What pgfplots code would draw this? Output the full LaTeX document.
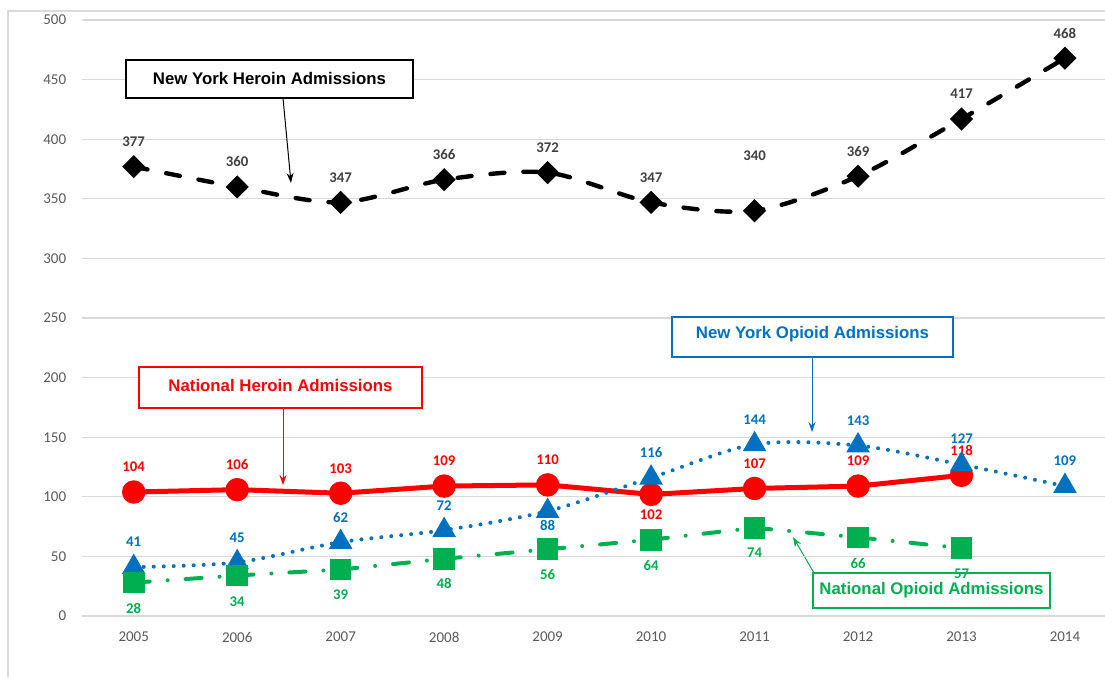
\documentclass[border=0pt]{standalone}
\usepackage{pgfplots}
\pgfplotsset{compat=1.18}
\usepackage{pgfplotstable}
\usetikzlibrary{arrows.meta}
\usepackage{fontspec}
\setmainfont{Carlito}
\newfontfamily\arialf{Liberation Sans}
\definecolor{nyblue}{HTML}{0070C0}
\definecolor{natgreen}{HTML}{00B050}
\definecolor{natred}{HTML}{FF0000}
\definecolor{lblgray}{HTML}{404040}
\definecolor{tickgray}{HTML}{595959}
\definecolor{gridgray}{HTML}{D9D9D9}

% x index, value, label offset (pt)
\pgfplotstableread{
x y dy
0 377 12.5
1 360 12.5
2 347 12.5
3 366 12.5
4 372 12.5
5 347 12.5
6 340 27.5
7 369 12.5
8 417 12.5
9 468 12.5
}\nyheroin
\pgfplotstableread{
x y dy
0 104 12.5
1 106 12.5
2 103 12.5
3 109 12.5
4 110 12.5
5 102 -10
6 107 12.5
7 109 12.5
8 118 12.5
}\natheroin
\pgfplotstableread{
x y dy
0 41 12.5
1 45 12.5
2 62 12.5
3 72 12.5
4 88 -7
5 116 12.5
6 144 12.5
7 143 12.5
8 127 13
9 109 12.5
}\nyopioid
\pgfplotstableread{
x y dy
0 28 -13
1 34 -13
2 39 -12.5
3 48 -12.5
4 56 -12.5
5 64 -13
6 74 -12.5
7 66 -13
8 57 -13
}\natopioid

\begin{document}
\begin{tikzpicture}[x=1pt,y=1pt]
\useasboundingbox (0,0) rectangle (552.5,338.5);
\draw[gridgray, line width=0.6pt] (4,0) -- (4,333) -- (552.5,333);
% green annotation drawn first so the data labels lie over it
\draw[natgreen, line width=0.6pt, fill=white] (406.5,34.5) rectangle (525,52);
\node[font=\arialf\bfseries\fontsize{8.4}{10}\selectfont, text=natgreen] at (465.75,43.5) {National Opioid Admissions};
\draw[natgreen, line width=0.5pt, -{Stealth[length=5pt,width=3.5pt]}] (407,52) -- (396.5,70);
\begin{axis}[
  at={(66.87pt,30.5pt)}, anchor=origin,
  scale only axis, width=511.5pt, height=298pt,
  xmin=-0.5, xmax=9.387, ymin=0, ymax=500,
  clip=false,
  axis line style={draw=none},
  major tick length=0pt,
  ytick={0,50,...,500},
  xtick={0,...,9},
  xticklabels={2005,2006,2007,2008,2009,2010,2011,2012,2013,2014},
  ymajorgrids,
  grid style={gridgray, line width=0.6pt},
  /pgf/number format/assume math mode=true,
  tick label style={font=\fontsize{7.5}{9}\selectfont, text=tickgray},
  xticklabel style={yshift=-4.5pt},
  yticklabel style={xshift=-4.4pt},
  scaled ticks=false,
  nodes near coords,
  visualization depends on={\thisrow{dy} \as \dy},
  nodes near coords style={anchor=center, yshift=\dy pt, font=\bfseries\fontsize{7.4}{8}\selectfont},
]
\addplot[smooth, tension=0.5, black, line width=2.2pt, line cap=round, dash pattern=on 7pt off 9.5pt,
  mark=square*, mark size=3pt, mark options={solid, fill=black, rotate=45},
  nodes near coords style={text=lblgray}] table[x=x,y=y] {\nyheroin};
\addplot[natred, line width=2.5pt,
  mark=*, mark size=4.6pt, mark options={solid, fill=natred},
  nodes near coords style={text=natred}] table[x=x,y=y] {\natheroin};
\addplot[smooth, tension=0.5, nyblue, line width=2pt, line cap=round, dash pattern=on 0pt off 5pt,
  mark=triangle*, mark size=4.8pt, mark options={solid, fill=nyblue},
  nodes near coords style={text=nyblue}] table[x=x,y=y] {\nyopioid};
\addplot[natgreen, line width=2pt, line cap=round, dash pattern=on 8pt off 9pt on 0pt off 9pt,
  mark=square*, mark size=4.4pt, mark options={solid, fill=natgreen},
  nodes near coords style={text=natgreen}] table[x=x,y=y] {\natopioid};
\end{axis}
% annotation boxes
\draw[black, line width=0.6pt, fill=white] (63,289.5) rectangle (206.5,308.5);
\node[font=\arialf\bfseries\fontsize{8.4}{10}\selectfont, text=black] at (134.75,299.5) {New York Heroin Admissions};
\draw[black, line width=0.5pt, -{Stealth[length=5pt,width=3.5pt]}] (141.5,289.5) -- (145.5,247);

\draw[natred, line width=0.6pt, fill=white] (69.5,134.5) rectangle (211,155);
\node[font=\arialf\bfseries\fontsize{8.4}{10}\selectfont, text=natred] at (140.25,146) {National Heroin Admissions};
\draw[natred, line width=0.5pt, -{Stealth[length=5pt,width=3.5pt]}] (141.5,134.5) -- (141.5,96);

\draw[nyblue, line width=0.6pt, fill=white] (336,160) rectangle (476.5,180);
\node[font=\arialf\bfseries\fontsize{8.4}{10}\selectfont, text=nyblue] at (406.25,171.5) {New York Opioid Admissions};
\draw[nyblue, line width=0.5pt, -{Stealth[length=5pt,width=3.5pt]}] (406,160) -- (406,122.5);
\end{tikzpicture}
\end{document}
